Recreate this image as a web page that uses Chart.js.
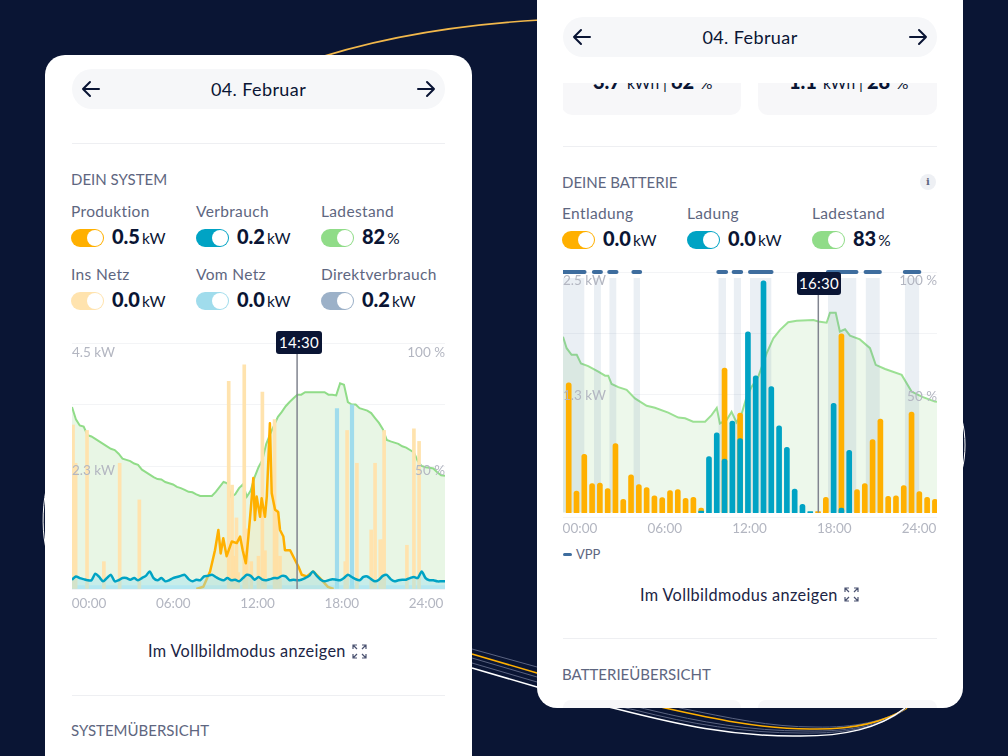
<!DOCTYPE html>
<html lang="de"><head><meta charset="utf-8">
<script src="https://cdn.jsdelivr.net/npm/chart.js@4/dist/chart.umd.min.js"></script>
<style>
html,body{margin:0;padding:0;background:#0A1534}
#stage{position:relative;width:1008px;height:756px;overflow:hidden;background:#0A1534;font-family:"Lato",sans-serif;color:#0A1534}
#deco{position:absolute;left:0;top:0}
.card{position:absolute;background:#fff;overflow:hidden}
.abs{position:absolute;white-space:nowrap;line-height:1}
.pill{position:absolute;background:#F6F7F9;border-radius:20px;height:40px}
.hr{position:absolute;height:1px;background:#EEEFF2}
.sec{color:#5E6680;font-size:15px}
.lab{color:#5E6680;font-size:15.5px;letter-spacing:.35px}
.val{font-size:20px;font-weight:900;color:#0A1534}
.val small{font-size:15.5px;font-weight:400;margin-left:2px}
.tg{position:absolute;width:33px;height:18px;border-radius:9px}
.tg i{position:absolute;right:1px;top:1px;width:16px;height:16px;border-radius:8px;background:#fff}
.badge{position:absolute;background:#0A1534;color:#fff;border-radius:3px;font-size:15px;text-align:center;height:23px;line-height:23px;letter-spacing:.3px}
canvas{position:absolute;display:block}
</style></head><body>
<div id="stage">
<svg id="deco" width="1008" height="756" fill="none">
<path d="M300 64C380 36 470 24 540 20" stroke="#F2B84B" stroke-width="1.6"/>
<path d="M46 490C42 510 42 535 47 552" stroke="#fff" stroke-width="1"/>
<path d="M962 420C966 435 966 455 962 470" stroke="#fff" stroke-width="1"/>
<path d="M472 649L537 667C590 685 640 695 680 708C730 718 770 727 815 727C855 728 885 721 907 708" stroke="#5A6380" stroke-width="1"/>
<path d="M472 654L537 673C590 690 630 699 665 708C710 718 760 729 810 729C855 730 885 722 907 708" stroke="#FFB000" stroke-width="1.5"/>
<path d="M472 658L537 677C590 693 620 703 650 710C700 722 750 731 805 731C855 732 885 724 906 708" stroke="#5A6380" stroke-width="1"/>
<path d="M472 663L537 682C585 696 610 705 635 710C690 724 745 733 800 733C850 734 885 726 906 708" stroke="#5A6380" stroke-width="1"/>
<path d="M472 668L537 687C570 697 600 705 617 709C680 725 730 736 793 736C845 737 880 728 905 708" stroke="#fff" stroke-width="1.5"/>
</svg>

<div class="card" style="left:45px;top:55px;width:427px;height:701px;border-radius:20px 20px 0 0"></div>
<div class="card" style="left:537px;top:0;width:426px;height:708px;border-radius:0 0 20px 20px"></div>

<div id="ui"></div>

<canvas id="chartA" width="373" height="289" style="left:72px;top:330px;width:373px;height:289px"></canvas>
<canvas id="chartB" width="374" height="282" style="left:563px;top:260px;width:374px;height:282px"></canvas>

<div class="badge" style="left:276px;top:331px;width:46px">14:30</div>
<div class="badge" style="left:797px;top:272px;width:44px">16:30</div>
</div>

<script>
/* ---------- left chart: DEIN SYSTEM (minutes of the day, kW, %) ---------- */
const quarterMinutes = [0,15,30,45,60,75,90,105,120,135,150,165,180,195,210,225,240,255,270,285,300,315,330,345,360,375,390,405,420,435,450,465,480,495,510,525,540,555,570,585,600,615,630,645,660,675,690,705,720,735,750,765,780,795,810,825,840,855,870,885,900,915,930,945,960,975,990,1005,1020,1035,1050,1065,1080,1095,1110,1125,1140,1155,1170,1185,1200,1215,1230,1245,1260,1275,1290,1305,1320,1335,1350,1365,1380,1395,1410,1425,1440];
const socA = [74,69,66.5,66,62.5,62,61,60,59,58,57,56.5,55,53,52.5,52,51,50.5,48.5,47.5,46.5,45.5,44.7,44.5,43.5,43,42.5,41.5,41,40.3,39.5,39.3,38.5,37.8,37.8,37.8,37.8,39.5,41.5,43.5,43,37.5,38.5,41,42.5,37.5,40,45.5,49.5,52.5,59,63,66.5,70,72,74.3,76,77.5,79,79,80,80,80,80,80,80,79,79,78.7,83.6,83,76,75,75,73.5,73,72.5,71.5,69.5,67.5,65,60.6,60,59.5,59,58,57.5,56.5,55.5,52,50,49.5,49.3,49,47.5,46.2,46];
const consumptionA = [.17,.23,.2,.18,.16,.16,.28,.22,.14,.2,.26,.14,.16,.2,.2,.17,.2,.16,.2,.24,.32,.2,.16,.2,.14,.16,.2,.22,.24,.26,.18,.14,.17,.16,.23,.24,.26,.22,.18,.16,.2,.16,.17,.14,.2,.26,.24,.17,.22,.17,.16,.18,.2,.2,.24,.23,.16,.17,.16,.17,.2,.24,.32,.24,.17,.14,.16,.18,.17,.16,.2,.26,.22,.18,.16,.22,.23,.18,.14,.17,.24,.26,.18,.14,.16,.17,.17,.2,.22,.2,.32,.2,.16,.16,.14,.14,.14];
const productionMinutes = [480,507,533,552,565,574,584,597,617,636,649,659,671,681,690,700,706,713,726,732,745,752,764,771,784,796,803,816,822,842,861,874,887,906,931,957,988,1010];
const productionKw = [0,.04,.32,.71,1.08,.65,.93,.6,.87,.84,.96,.71,.47,.96,1.45,2.03,1.26,1.69,1.32,1.66,1.32,1.69,3.03,1.75,1.45,1.41,1.08,.96,.71,.71,.53,.41,.26,.23,.32,.2,.04,0];
const feedInMinutes = [4,14,58,123,184,260,605,618,627,635,641,665,675,692,720,735,745,782,790,803,1055,1062,1100,1155,1170,1190,1197,1205,1293,1320,1340];
const feedInKw = [3,2.3,2.9,.5,2.3,1.63,3.8,1.9,.6,1.3,.3,4.1,1.1,.5,.6,3.6,.7,3.1,1.45,.6,.5,2.9,2.3,1.08,2.3,.9,.9,2.9,.8,2.93,2.7];
const gridMinutes = [1023,1081];
const gridKw = [3.3,3.37];
const gridBaseMinutes = [0,1440];
const gridBaseKw = [.07,.07];
const cursorMinuteA = 869;
const cursorKwA = 4.3;

/* ---------- right chart: DEINE BATTERIE ---------- */
const socMinutesB = [0,14,33,53,69,97,136,162,174,187,213,245,277,322,354,405,444,470,501,547,572,592,604,630,649,668,688,707,726,752,784,810,835,867,900,964,983,1015,1028,1050,1066,1086,1105,1143,1182,1204,1240,1304,1342,1381,1432,1440];
const socB = [73.6,68.9,66.2,66.2,62.7,61.6,59.3,57.7,57.7,54.3,53,51.9,48.4,45.4,44.6,42.6,40.6,40.3,38.9,38.9,41.6,44.5,38.2,39.6,42.9,38.6,42.2,49,53.1,57.3,66.8,72.9,76.3,79.5,80.1,80.4,79.8,79.3,83.4,83.4,75.7,76.6,74,72.5,68.9,62.1,60.4,58,51.2,49.1,47.1,47];
const barMinutes = [22,52,82,112,142,172,202,232,262,292,322,352,382,412,442,472,502,532,562,592,622,652,682,712,742,772,802,832,862,892,922,952,982,1012,1042,1072,1102,1132,1162,1192,1222,1252,1282,1312,1342,1372,1402,1432];
const dischargeKw = [1.37,.265,.64,.34,.345,.29,.75,.18,.43,.33,.3,.217,.197,.27,.28,.19,.2,.09,null,null,1.52,null,1.06,null,null,null,null,null,null,null,null,null,.055,.2,null,1.87,null,.28,.34,.79,1,.21,.217,.32,1.07,.26,.2,.18];
const chargeKw = [null,null,null,null,null,null,null,null,null,null,null,null,null,null,null,null,null,.06,.616,.86,.59,.98,.8,1.89,1.44,2.41,1.33,.93,.71,.285,.13,.055,null,null,1.16,.09,.68,null,null,null,null,null,null,null,null,null,null,null];
const vppStart = [0,119,178,271,598,657,720,1020,1165,1316];
const vppEnd = [83,146,206,297,628,686,803,1130,1220,1372];
const cursorMinuteB = 983;
const cursorKwB = 2.27;

/* ---------- axis tick labels ---------- */
const hourTicks = [0,6,12,18,24];
const kwTicksA = [2.3,4.5];
const pctTicks = [50,100];
const kwTicksB = [1.3,2.5];

/* ---------- page text ---------- */
const legendA = [
 ["Produktion","0.5","kW","#FFB000",71,204],["Verbrauch","0.2","kW","#00A3C4",196,204],["Ladestand","82","%","#90DC88",321,204],
 ["Ins Netz","0.0","kW","#FFE3AE",71,267],["Vom Netz","0.0","kW","#A0DCEC",196,267],["Direktverbrauch","0.2","kW","#9CB1C8",321,267]];
const legendB = [
 ["Entladung","0.0","kW","#FFB000",562,206],["Ladung","0.0","kW","#00A3C4",687,206],["Ladestand","83","%","#90DC88",812,206]];

const ui = document.getElementById('ui');
const add = h => ui.insertAdjacentHTML('beforeend', h);
const arrow = (x,y,dir) => `<svg class="abs" style="left:${x}px;top:${y}px" width="20" height="18" fill="none" stroke="#0A1534" stroke-width="2" stroke-linecap="round" stroke-linejoin="round">${dir<0?'<path d="M18 9H2M9 2L2 9l7 7"/>':'<path d="M2 9H18M11 2l7 7-7 7"/>'}</svg>`;
const expand = (x,y) => `<svg class="abs" style="left:${x}px;top:${y}px" width="15" height="15" fill="none" stroke="#4A5270" stroke-width="1.2"><path d="M1 5V1h4M10 1h4v4M14 10v4h-4M5 14H1v-4M1 1l4 4M14 1l-4 4M14 14l-4-4M1 14l4-4"/></svg>`;
function pill(x,y,w){ add(`<div class="pill" style="left:${x}px;top:${y}px;width:${w}px"></div>`+arrow(x+9,y+11,-1)+arrow(x+w-29,y+11,1)+
  `<div class="abs" style="left:${x}px;top:${y+11}px;width:${w}px;text-align:center;font-size:18px;letter-spacing:.4px">04. Februar</div>`); }
function hr(x,y,w){ add(`<div class="hr" style="left:${x}px;top:${y}px;width:${w}px"></div>`); }
function text(x,y,t,c,extra){ add(`<div class="abs ${c}" style="left:${x}px;top:${y}px;${extra||''}">${t}</div>`); }
function legend(l){ for(const [n,v,u,col,x,y] of l){
  text(x,y,n,'lab');
  add(`<div class="tg" style="left:${x}px;top:${y+25}px;background:${col}"><i></i></div>`);
  text(x+41,y+22,`${v}<small>${u}</small>`,'val');
}}
const btn = 'color:#1C2545;font-size:16.3px;';
pill(72,69,373); hr(72,143,373); text(71,172,'DEIN SYSTEM','sec'); legend(legendA);
text(148,643,'Im Vollbildmodus anzeigen','lab',btn);
add(expand(352,644)); hr(72,695,373); text(71,723,'SYSTEMÜBERSICHT','sec');

pill(563,17,374);
add(`<div style="position:absolute;left:563px;top:83px;width:374px;height:32px;overflow:hidden">
 <div style="position:absolute;left:-1px;top:-10px;width:179px;height:42px;background:#F7F7F9;border-radius:10px"></div>
 <div style="position:absolute;left:195px;top:-10px;width:179px;height:42px;background:#F7F7F9;border-radius:10px"></div>
 <div class="abs val" style="left:30px;top:-12px">3.7<small> kWh | </small>62<small> %</small></div>
 <div class="abs val" style="left:226px;top:-12px">1.1<small> kWh | </small>28<small> %</small></div></div>`);
hr(563,146,374); text(562,175,'DEINE BATTERIE','sec');
add(`<div class="abs" style="left:920px;top:174px;width:16px;height:16px;border-radius:8px;background:#EEF0F4;text-align:center;font:bold 10px/16px 'DejaVu Serif';color:#5E6680">i</div>`);
legend(legendB);
add(`<div class="abs" style="left:563px;top:553px;width:9px;height:3px;border-radius:2px;background:#3E6D9E"></div>`);
add(`<div class="abs" style="left:576px;top:548px;font-size:13px;color:#5E6680">VPP</div>`);
text(640,587,'Im Vollbildmodus anzeigen','lab',btn);
add(expand(844,587)); hr(563,638,374); text(562,667,'BATTERIEÜBERSICHT','sec');
add(`<div style="position:absolute;left:563px;top:700px;width:178px;height:8px;background:#F7F7F9;border-radius:10px 10px 0 0"></div><div style="position:absolute;left:758px;top:700px;width:179px;height:8px;background:#F7F7F9;border-radius:10px 10px 0 0"></div>`);

/* ---------- Chart.js ---------- */
const zip = (xs,ys) => xs.map((x,i)=>({x,y:ys[i]}));
const tickFont = {family:'Lato',size:13.5};
const tickCol = '#B3B6C1';
const hh = v => String(v).padStart(2,'0')+':00';
const zeroWidth = a => { a.width = 0; a.paddingTop = 0; a.paddingBottom = 0; };
function setTicks(vals){ return a => { a.ticks = vals.map(value=>({value})); }; }
function labelAxis(pos,min,max,vals,cb){ return {type:'linear',position:pos,min,max,grid:{display:false},border:{display:false},
  afterBuildTicks:setTicks(vals),afterFit:zeroWidth,
  ticks:{z:2,mirror:true,padding:0,color:tickCol,font:tickFont,autoSkip:false,callback:cb}}; }
function commonScales(yMax,labelPad,xLabMin,xLabMax,kwLabel,pctLabel,fixH){
 return {
  x:{type:'linear',min:0,max:1440,offset:false,display:false},
  xLab:{type:'linear',position:'bottom',min:xLabMin,max:xLabMax,grid:{display:false,tickLength:0,drawTicks:false},border:{display:false},
    afterBuildTicks:setTicks(hourTicks),afterFit:a=>{a.height=fixH;a.paddingLeft=0;a.paddingRight=0;},
    ticks:{padding:labelPad,color:tickCol,font:tickFont,maxRotation:0,autoSkip:false,callback:v=>hh(v)}},
  y:{type:'linear',position:'left',min:0,max:yMax,afterFit:zeroWidth,
    afterBuildTicks:a=>{a.ticks=[0,.25,.5,.75,1].map(f=>({value:f*yMax}));},
    grid:{color:'#F3F4F6',drawTicks:false},border:{display:false},ticks:{display:false}},
  pct:{type:'linear',position:'right',min:0,max:100,display:false},
  kwLab:kwLabel, pctLab:pctLabel };
}
const baseOpts = {responsive:false,animation:false,devicePixelRatio:window.devicePixelRatio||1,
  plugins:{legend:{display:false},tooltip:{enabled:false}},
  elements:{point:{radius:0}},events:[]};

new Chart(document.getElementById('chartA'),{
 data:{datasets:[
  {type:'line',label:'Cursor',order:0,xAxisID:'x',yAxisID:'y',data:zip([cursorMinuteA,cursorMinuteA],[0,cursorKwA]),borderColor:'#81848F',borderWidth:1.5},
  {type:'line',label:'Verbrauch',order:1,xAxisID:'x',yAxisID:'y',data:zip(quarterMinutes,consumptionA),borderColor:'#00A3C4',borderWidth:2.5,tension:.25,borderJoinStyle:'round',fill:'origin',backgroundColor:'rgba(160,226,238,.45)'},
  {type:'line',label:'Produktion',order:2,xAxisID:'x',yAxisID:'y',data:zip(productionMinutes,productionKw),borderColor:'#FFB000',borderWidth:2.5,borderJoinStyle:'round',fill:'origin',backgroundColor:'rgba(255,214,120,.16)'},
  {type:'bar',label:'Ins Netz',order:3,xAxisID:'x',yAxisID:'y',grouped:false,barThickness:3,data:zip(feedInMinutes,feedInKw),backgroundColor:'#FFE3AE'},
  {type:'bar',label:'Vom Netz',order:3,xAxisID:'x',yAxisID:'y',grouped:false,barThickness:3.5,data:zip(gridMinutes,gridKw),backgroundColor:'#A0DCEC'},
  {type:'line',label:'Vom Netz Basis',order:4,xAxisID:'x',yAxisID:'y',data:zip(gridBaseMinutes,gridBaseKw),borderWidth:0,fill:'origin',backgroundColor:'#C5ECF5'},
  {type:'line',label:'Ladestand',order:5,xAxisID:'x',yAxisID:'pct',data:zip(quarterMinutes,socA),borderColor:'#90DC88',borderWidth:2,fill:'origin',backgroundColor:'#E8F6E5'}
 ]},
 options:{...baseOpts,layout:{autoPadding:false,padding:{top:13,left:0,right:0,bottom:0}},
  scales:commonScales(4.5,7,-1.21,25.35,
    labelAxis('left',.109,4.676,kwTicksA,v=>v+' kW'),
    labelAxis('right',0,104.2,pctTicks,v=>v+' %'),30)}
});

const vppXs=[],vppBand=[],vppCap=[];
vppStart.forEach((s,i)=>{ vppXs.push(s,vppEnd[i],vppEnd[i]); vppBand.push(2.44,2.44,null); vppCap.push(2.5,2.5,null); });
const barRound = {topLeft:2.5,topRight:2.5};

new Chart(document.getElementById('chartB'),{
 data:{datasets:[
  {type:'line',label:'Cursor',order:0,xAxisID:'x',yAxisID:'y',data:zip([cursorMinuteB,cursorMinuteB],[.045,cursorKwB]),borderColor:'#81848F',borderWidth:1.5},
  {type:'bar',label:'Ladung',order:1,xAxisID:'x',yAxisID:'y',grouped:false,barThickness:5,base:.045,data:zip(barMinutes,chargeKw),backgroundColor:'#00A3C4',borderRadius:barRound,borderSkipped:false},
  {type:'bar',label:'Entladung',order:2,xAxisID:'x',yAxisID:'y',grouped:false,barThickness:5,base:.045,data:zip(barMinutes,dischargeKw),backgroundColor:'#FFB000',borderRadius:barRound,borderSkipped:false},
  {type:'line',label:'VPP',order:3,xAxisID:'x',yAxisID:'y',clip:false,data:zip(vppXs,vppCap),borderColor:'#3E6D9E',borderWidth:4,borderCapStyle:'round',spanGaps:false},
  {type:'line',label:'VPP Band',order:4,xAxisID:'x',yAxisID:'y',data:zip(vppXs,vppBand),borderWidth:0,spanGaps:false,fill:{value:.045},backgroundColor:'rgba(62,109,158,.11)'},
  {type:'line',label:'Ladestand',order:5,xAxisID:'x',yAxisID:'pct',data:zip(socMinutesB,socB),borderColor:'#9BE093',borderWidth:2,fill:{value:1.8},backgroundColor:'#EDF8EB'}
 ]},
 options:{...baseOpts,layout:{autoPadding:false,padding:{top:12,left:0,right:0,bottom:0}},
  scales:commonScales(2.5,4,-1.2,25.27,
    labelAxis('left',.037,2.594,kwTicksB,v=>v.toFixed(1)+' kW'),
    labelAxis('right',-1.7,103.9,pctTicks,v=>v+' %'),25)}
});
</script>
</body></html>
